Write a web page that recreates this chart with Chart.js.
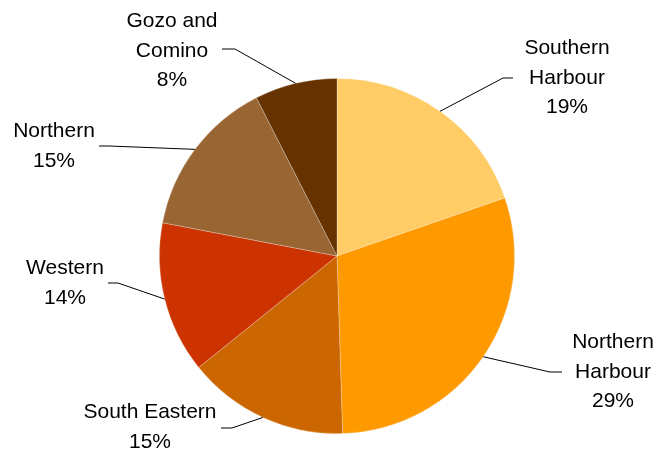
<!DOCTYPE html>
<html>
<head>
<meta charset="utf-8">
<script src="https://cdn.jsdelivr.net/npm/chart.js@4/dist/chart.umd.min.js"></script>
<style>
  html, body { margin: 0; padding: 0; background: #fff; }
  #regionChart { display: block; }
</style>
</head>
<body>
<canvas id="regionChart" width="658" height="450"></canvas>
<script>
// Share of population by district
const regions = ["Southern Harbour", "Northern Harbour", "South Eastern", "Western", "Northern", "Gozo and Comino"];
const shares = [19.7, 29.8, 14.7, 13.8, 14.5, 7.5];
const pctLabels = ["19%", "29%", "15%", "14%", "15%", "8%"];
const sliceColors = ["#FFCC66", "#FF9900", "#CC6600", "#CC3300", "#996633", "#663300"];

// Label placement: text lines, centre x, first baseline, leader elbow and end
const labelLayout = [
    { lines: ["Southern", "Harbour"], x: 567, y: 54, elbow: [503, 78], end: [513, 78] },
    { lines: ["Northern", "Harbour"], x: 613, y: 348, elbow: [550, 372], end: [562, 372] },
    { lines: ["South Eastern"], x: 150, y: 418, elbow: [232, 428], end: [221, 428] },
    { lines: ["Western"], x: 65, y: 274, elbow: [118, 283], end: [108, 283] },
    { lines: ["Northern"], x: 54, y: 137, elbow: [109, 146], end: [99, 146] },
    { lines: ["Gozo and", "Comino"], x: 172, y: 27, elbow: [235, 49], end: [222, 49] }
];

const leaderLabels = {
    id: "leaderLabels",
    afterDraw(chart) {
        const ctx = chart.ctx;
        const arcs = chart.getDatasetMeta(0).data;
        ctx.save();
        arcs.forEach((arc, i) => {
            const p = arc.getProps(["x", "y", "startAngle", "endAngle", "outerRadius"], true);
            const mid = (p.startAngle + p.endAngle) / 2;
            const sx = p.x + Math.cos(mid) * p.outerRadius;
            const sy = p.y + Math.sin(mid) * p.outerRadius;
            const lay = labelLayout[i];

            ctx.strokeStyle = "#000";
            ctx.lineWidth = 1;
            ctx.beginPath();
            ctx.moveTo(sx, sy);
            ctx.lineTo(lay.elbow[0], lay.elbow[1]);
            ctx.lineTo(lay.end[0], lay.end[1]);
            ctx.stroke();

            ctx.fillStyle = "#000";
            ctx.font = '21px "Liberation Sans", Arial, sans-serif';
            ctx.textAlign = "center";
            ctx.textBaseline = "alphabetic";
            const texts = lay.lines.concat([pctLabels[i]]);
            texts.forEach((t, k) => ctx.fillText(t, lay.x, lay.y + k * 29.5));
        });
        ctx.restore();
    }
};

new Chart(document.getElementById("regionChart").getContext("2d"), {
    type: "pie",
    data: {
        labels: regions,
        datasets: [{
            data: shares,
            backgroundColor: sliceColors,
            borderColor: "rgba(255,255,255,0.35)",
            borderWidth: 0.75
        }]
    },
    options: {
        responsive: false,
        animation: false,
        layout: { padding: { left: 159, right: 143, top: 78, bottom: 16 } },
        plugins: {
            legend: { display: false },
            tooltip: { enabled: false }
        }
    },
    plugins: [leaderLabels]
});
</script>
</body>
</html>
